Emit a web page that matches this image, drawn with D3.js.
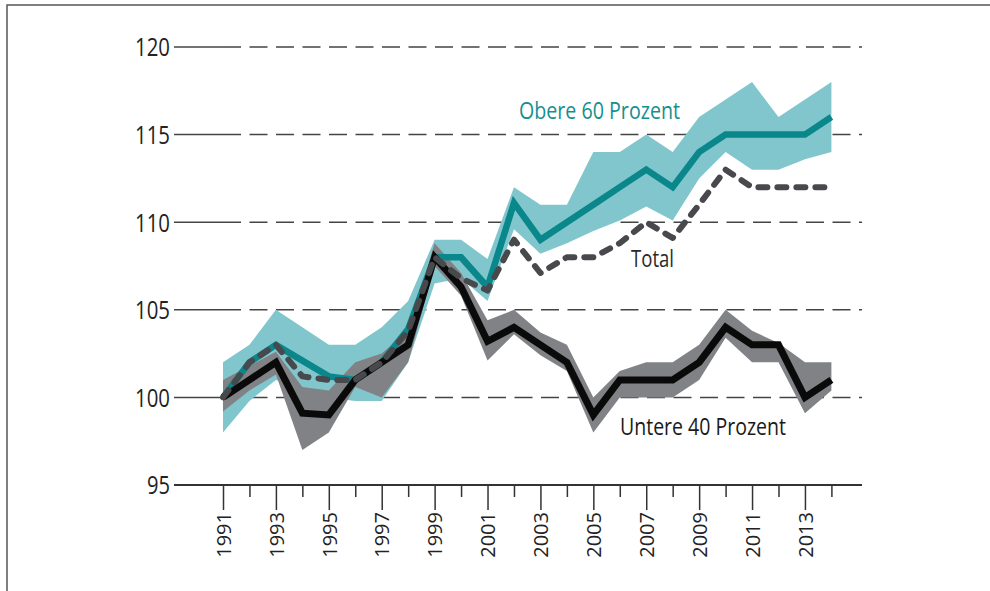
<!DOCTYPE html>
<html>
<head>
<meta charset="utf-8">
<script src="https://cdn.jsdelivr.net/npm/d3@7"></script>
<style>
  body { margin: 0; background: #fff; }
</style>
</head>
<body>
<script>
// index values, 1991 = 100
const years = [1991, 1992, 1993, 1994, 1995, 1996, 1997, 1998, 1999, 2000, 2001, 2002,
               2003, 2004, 2005, 2006, 2007, 2008, 2009, 2010, 2011, 2012, 2013, 2014];
const total   = [100, 102, 103, 101.2, 101, 101, 102, 103.8, 108, 106.8, 106.1, 109,
                 107.1, 108, 108, 108.8, 110, 109.1, 111, 113, 112, 112, 112, 112];
const upper60 = [100, 102, 103, 102.1, 101.2, 101, 102, 103.9, 108, 108, 106.3, 111.1,
                 109, 110, 111, 112, 113, 112, 114, 115, 115, 115, 115, 116];
const upperHi = [102, 103, 105, 104, 103, 103, 104, 105.5, 109, 109, 107.9, 112,
                 111, 111, 114, 114, 115, 114, 116, 117, 118, 116, 117, 118];
const upperLo = [98, 99.8, 101, 100.5, 100, 99.8, 99.8, 102, 106.5, 106.8, 105.5, 109.6,
                 108.2, 108.8, 109.5, 110.1, 110.9, 110.1, 112.5, 114, 113, 113, 113.6, 114];
const lower40 = [100, 101, 102, 99.1, 99, 101, 102, 103, 108, 106.3, 103.2, 104,
                 103, 102, 99, 101, 101, 101, 102, 104, 103, 103, 100, 101];
const lowerHi = [101, 101.8, 102.6, 100.6, 100.4, 102, 102.5, 103.8, 108.8, 107.1, 104.4, 105,
                 103.7, 103, 100, 101.5, 102, 102, 103, 105, 103.8, 103.1, 102, 102];
const lowerLo = [99.2, 100.4, 101.3, 97, 98, 100.6, 100, 102, 107.5, 105.8, 102.1, 103.6,
                 102.4, 101.5, 98, 100, 100, 100, 101, 103.4, 102, 102, 99.1, 100.4];
const yTicks = [95, 100, 105, 110, 115, 120];

let width = 990;
let height = 591;

let xScale = d3.scaleLinear([1991, 2014], [223, 831.4]);
let yScale = d3.scaleLinear([95, 120], [485, 47]);
let gridLeft = 174;
let gridRight = 862;

let svg = d3.select('body').append('svg')
  .attr('width', width)
  .attr('height', height)
  .attr('font-family', "'Open Sans', sans-serif");

// outer frame (top and left edges only are visible)
svg.append('path')
  .attr('d', `M7,${height} V5 H${width}`)
  .attr('fill', 'none')
  .attr('stroke', '#555')
  .attr('stroke-width', 1.5);

// gridlines: short solid stub, then dashed
let grid = svg.append('g');
yTicks.forEach(t => {
  let yy = yScale(t);
  if (t === 95) {
    grid.append('line')
      .attr('x1', gridLeft).attr('x2', gridRight)
      .attr('y1', yy).attr('y2', yy)
      .attr('stroke', '#333').attr('stroke-width', 1.8);
  } else {
    grid.append('line')
      .attr('x1', gridLeft).attr('x2', xScale(1991))
      .attr('y1', yy).attr('y2', yy)
      .attr('stroke', '#444').attr('stroke-width', 1.5);
    grid.append('line')
      .attr('x1', xScale(1991)).attr('x2', gridRight)
      .attr('y1', yy).attr('y2', yy)
      .attr('stroke', '#444').attr('stroke-width', 1.5)
      .attr('stroke-dasharray', '18,8.5');
  }
});

// y labels
svg.append('g')
  .selectAll('text')
  .data(yTicks)
  .join('text')
  .text(d => d)
  .attr('x', 170)
  .attr('y', d => yScale(d))
  .attr('dy', '0.36em')
  .attr('text-anchor', 'end')
  .attr('font-size', 26)
  .attr('textLength', d => String(d).length === 3 ? 35 : 23)
  .attr('lengthAdjust', 'spacingAndGlyphs')
  .attr('fill', '#222');

// x axis ticks and rotated labels
let xAxis = d3.axisBottom(xScale)
  .tickValues(years)
  .tickFormat(d => d % 2 ? d : '')
  .tickSizeOuter(0);

let xg = svg.append('g')
  .attr('transform', `translate(0,${yScale(95)})`)
  .call(xAxis);
xg.select('.domain').remove();
xg.selectAll('.tick line')
  .attr('y2', d => d % 2 ? 25 : 12)
  .attr('stroke', '#333')
  .attr('stroke-width', 1.5);
xg.selectAll('.tick text')
  .attr('transform', 'rotate(-90)')
  .attr('text-anchor', 'end')
  .attr('x', -27)
  .attr('y', 0)
  .attr('dy', '0.36em')
  .attr('font-size', 20)
  .attr('font-family', "'Open Sans', sans-serif")
  .attr('fill', '#222');

// bands
let band = (hi, lo) => d3.area()
  .x((d, i) => xScale(years[i]))
  .y0((d, i) => yScale(lo[i]))
  .y1((d, i) => yScale(hi[i]));

svg.append('path')
  .datum(years)
  .attr('d', band(upperHi, upperLo))
  .attr('fill', '#82c6cd');

svg.append('path')
  .datum(years)
  .attr('d', band(lowerHi, lowerLo))
  .attr('fill', '#808285');

// lines
let line = d3.line()
  .x((d, i) => xScale(years[i]));

svg.append('path')
  .datum(upper60)
  .attr('d', line.y(d => yScale(d)))
  .attr('fill', 'none')
  .attr('stroke', '#0a878b')
  .attr('stroke-width', 6.5);

svg.append('path')
  .datum(lower40)
  .attr('d', line.y(d => yScale(d)))
  .attr('fill', 'none')
  .attr('stroke', '#0a0a0a')
  .attr('stroke-width', 7);

svg.append('path')
  .datum(total)
  .attr('d', line.y(d => yScale(d)))
  .attr('fill', 'none')
  .attr('stroke', '#48494c')
  .attr('stroke-width', 6)
  .attr('stroke-linecap', 'round')
  .attr('stroke-linejoin', 'round')
  .attr('stroke-dasharray', '9,10');

// series labels
let labels = [
  {text: 'Obere 60 Prozent', x: 519, y: 119, len: 161, color: '#14908f'},
  {text: 'Total', x: 631, y: 267, len: 43, color: '#2a2a2a'},
  {text: 'Untere 40 Prozent', x: 620, y: 435, len: 166, color: '#1a1a1a'}
];
svg.append('g')
  .selectAll('text')
  .data(labels)
  .join('text')
  .text(d => d.text)
  .attr('x', d => d.x)
  .attr('y', d => d.y)
  .attr('font-size', 23)
  .attr('textLength', d => d.len)
  .attr('lengthAdjust', 'spacingAndGlyphs')
  .attr('fill', d => d.color);
</script>
</body>
</html>
